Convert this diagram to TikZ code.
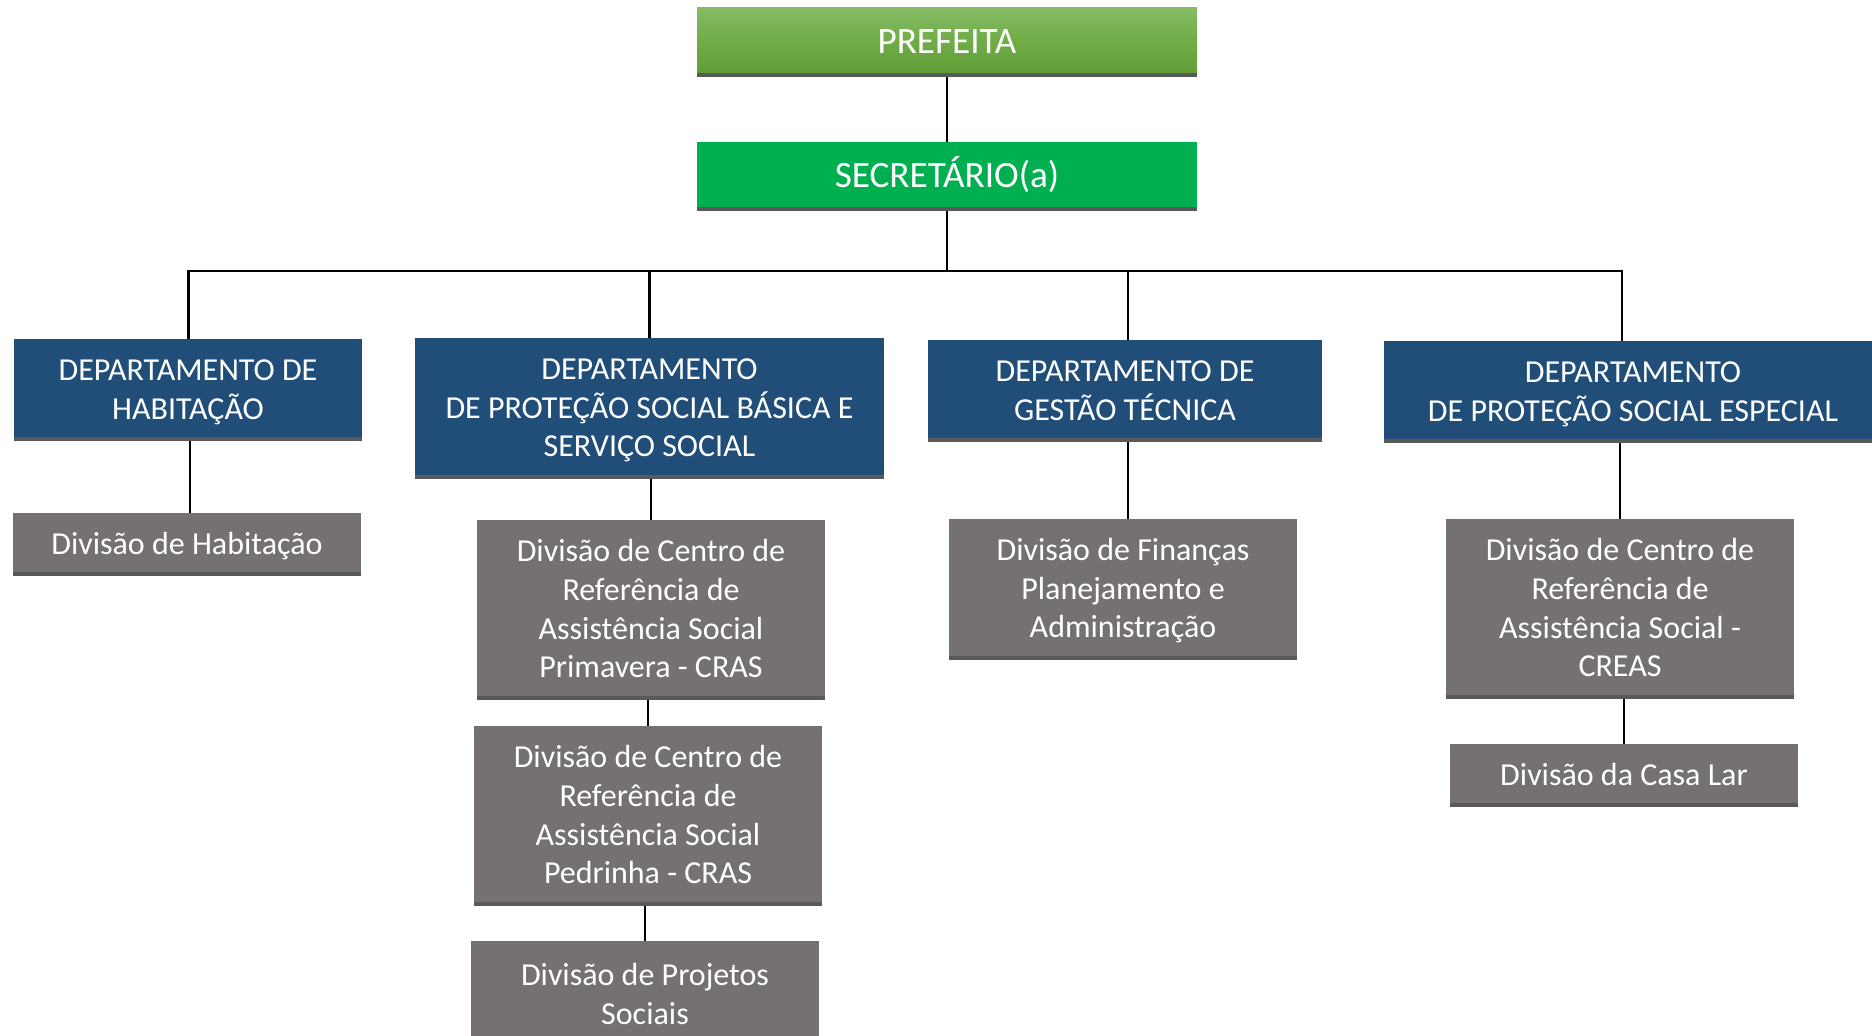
\documentclass[tikz,border=0pt]{standalone}
\usepackage{fontspec}
\setmainfont{Carlito}
\usetikzlibrary{backgrounds}
\definecolor{deptblue}{RGB}{33,78,121}
\definecolor{divgray}{RGB}{117,113,112}
\definecolor{shadowc}{RGB}{89,89,89}
\definecolor{secgreen}{RGB}{0,176,80}
\definecolor{gtop}{RGB}{134,188,102}
\definecolor{gmid}{RGB}{112,173,71}
\definecolor{gbot}{RGB}{98,158,56}
\newcommand{\tstrut}{\rule[-0.256em]{0pt}{1.156em}}
\begin{document}
\begin{tikzpicture}[x=0.5pt,y=-0.5pt,
  orgbox/.style={rectangle, inner sep=0pt},
  lbl/.style={text=white, align=center, inner sep=0pt, yshift=-0.75pt,
    font=\fontsize{16}{19.3}\selectfont},
  toplbl/.style={lbl, font=\fontsize{18.6}{22}\selectfont},
  topbox/.style={orgbox, minimum width=250pt},
  deptbox/.style={orgbox, fill=deptblue},
  divbox/.style={orgbox, fill=divgray, minimum width=174pt},
  conn/.style={draw=black, line width=1.3pt},
  shadowstrip/.style={fill=shadowc}]
\useasboundingbox (0,0) rectangle (1872,1035);
\clip (0,0) rectangle (1872,1035);

% top
\node[topbox, minimum height=33pt, top color=gtop, bottom color=gbot, middle color=gmid,
  label={[toplbl]center:{\tstrut PREFEITA\tstrut}}] (pref) at (947,40) {};
\node[topbox, minimum height=32.5pt, fill=secgreen,
  label={[toplbl]center:{\tstrut SECRETÁRIO(a)\tstrut}}] (sec) at (947,174.5) {};

% departments
\node[deptbox, minimum width=174pt, minimum height=49pt,
  label={[lbl]center:{\tstrut DEPARTAMENTO DE\\HABITAÇÃO\tstrut}}] (d1) at (188,388) {};
\node[deptbox, minimum width=234.5pt, minimum height=68.5pt,
  label={[lbl]center:{\tstrut DEPARTAMENTO\\DE PROTEÇÃO SOCIAL BÁSICA E\\SERVIÇO SOCIAL\tstrut}}] (d2) at (649.5,406.5) {};
\node[deptbox, minimum width=197pt, minimum height=49pt,
  label={[lbl]center:{\tstrut DEPARTAMENTO DE\\GESTÃO TÉCNICA\tstrut}}] (d3) at (1125,389) {};
\node[deptbox, minimum width=249pt, minimum height=49pt,
  label={[lbl]center:{\tstrut DEPARTAMENTO\\DE PROTEÇÃO SOCIAL ESPECIAL\tstrut}}] (d4) at (1633,390) {};

% divisions
\node[divbox, minimum height=29.5pt,
  label={[lbl]center:{\tstrut Divisão de Habitação\tstrut}}] (v1) at (187,542.5) {};
\node[divbox, minimum height=88pt,
  label={[lbl]center:{\tstrut Divisão de Centro de\\Referência de\\Assistência Social\\Primavera - CRAS\tstrut}}] (v2) at (651,608) {};
\node[divbox, minimum height=88pt,
  label={[lbl]center:{\tstrut Divisão de Centro de\\Referência de\\Assistência Social\\Pedrinha - CRAS\tstrut}}] (v3) at (648,814) {};
\node[divbox, minimum height=52pt,
  label={[lbl]center:{\tstrut Divisão de Projetos\\Sociais\tstrut}}] (v4) at (645,993) {};
\node[divbox, minimum height=68.5pt,
  label={[lbl]center:{\tstrut Divisão de Finanças\\Planejamento e\\Administração\tstrut}}] (v5) at (1123,587.5) {};
\node[divbox, minimum height=88pt,
  label={[lbl]center:{\tstrut Divisão de Centro de\\Referência de\\Assistência Social -\\CREAS\tstrut}}] (v6) at (1620,607) {};
\node[divbox, minimum height=29.5pt,
  label={[lbl]center:{\tstrut Divisão da Casa Lar\tstrut}}] (v7) at (1624,773.5) {};

% shadows under the boxes
\foreach \n in {pref,sec,d1,d2,d3,d4,v1,v2,v3,v4,v5,v6,v7}
  \fill[shadowstrip] (\n.south west) rectangle ([yshift=-2pt]\n.south east);

% connector guide points
\coordinate (bus) at (0,271);
\coordinate (d1x) at ([xshift=0.25pt]d1.center);
\coordinate (v1x) at ([xshift=1.5pt]v1.center);
\coordinate (d3x) at ([xshift=1.5pt]d3.center);
\coordinate (d4x) at ([xshift=-5.5pt]d4.center);
\begin{pgfonlayer}{background}
  \fill[white] (0,0) rectangle (1872,1035);
  \draw[conn] (pref) -- (sec);
  \draw[conn] (sec) -- (sec |- bus);
  \draw[conn] (d1x) -- (d1x |- bus) -- (d4x |- bus) -- (d4x);
  \draw[conn] (d2) -- (d2 |- bus);
  \draw[conn] (d3x) -- (d3x |- bus);
  \draw[conn] (v1x) -- (v1x |- d1);
  \draw[conn] (v2) -- (v2 |- d2);
  \draw[conn] (v3) -- (v3 |- v2);
  \draw[conn] (v4) -- (v4 |- v3);
  \draw[conn] (d3x |- v5) -- (d3x);
  \draw[conn] (v6) -- (v6 |- d4);
  \draw[conn] (v7) -- (v7 |- v6);
\end{pgfonlayer}
\end{tikzpicture}
\end{document}
